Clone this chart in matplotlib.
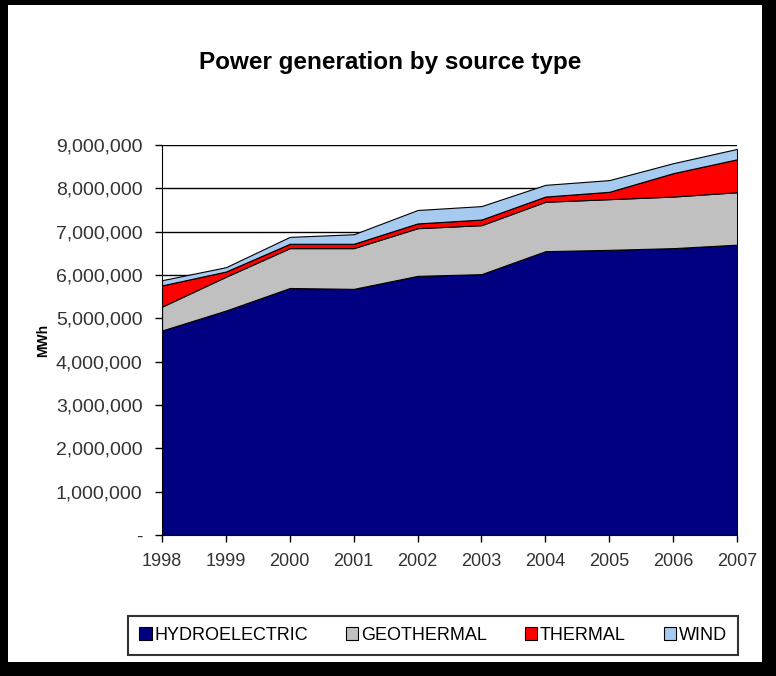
import matplotlib.pyplot as plt
from matplotlib.patches import Rectangle
from matplotlib.ticker import FuncFormatter

years = [1998, 1999, 2000, 2001, 2002, 2003, 2004, 2005, 2006, 2007]
hydro = [4720000, 5180000, 5700000, 5680000, 5980000, 6020000, 6550000, 6580000, 6620000, 6700000]
geo = [550000, 780000, 920000, 940000, 1100000, 1130000, 1140000, 1170000, 1190000, 1210000]
thermal = [490000, 120000, 100000, 100000, 110000, 130000, 120000, 170000, 540000, 760000]
wind = [120000, 100000, 160000, 220000, 310000, 310000, 270000, 270000, 230000, 240000]
labels = ['HYDROELECTRIC', 'GEOTHERMAL', 'THERMAL', 'WIND']
colors = ['#000080', '#C0C0C0', '#FF0000', '#A6CAF0']

plt.rcParams['font.family'] = ['Liberation Sans', 'DejaVu Sans']

fig = plt.figure(figsize=(7.76, 6.76), dpi=100, facecolor='black')
fig.patches.append(Rectangle((0.0103, 0.0207), 0.9716, 0.972, transform=fig.transFigure,
                             facecolor='white', edgecolor='none', zorder=-5))

ax = fig.add_axes([0.2088, 0.2086, 0.741, 0.5769])
ax.set_facecolor('white')
ax.stackplot(years, hydro, geo, thermal, wind, colors=colors, labels=labels,
             edgecolor='black', linewidth=0.8, zorder=2)

ax.set_xlim(1998, 2007)
ax.set_ylim(0, 9000000)
ax.set_xticks(years)
ax.set_yticks(range(0, 9000001, 1000000))
ax.yaxis.set_major_formatter(FuncFormatter(lambda v, p: '-' if v == 0 else f'{int(v):,}'))
for y in range(1000000, 9000001, 1000000):
    ax.axhline(y, color='black', linewidth=1.0, zorder=1)
for s in ['top', 'right']:
    ax.spines[s].set_visible(False)
ax.spines['left'].set_zorder(3)
ax.spines['bottom'].set_zorder(3)
ax.tick_params(axis='both', direction='out', length=5, width=1, colors='black')
ax.tick_params(axis='x', pad=8, labelsize=13)
ax.tick_params(axis='y', pad=9, labelsize=14)
for t in ax.get_xticklabels() + ax.get_yticklabels():
    t.set_color('#333333')
ax.set_ylabel('MWh', fontsize=10, fontweight='bold', labelpad=4)

fig.text(0.503, 0.908, 'Power generation by source type', ha='center', va='center',
         fontsize=17.5, fontweight='bold')

leg = ax.legend(loc='center', ncol=4, bbox_to_anchor=(0.165, 0.028, 0.786, 0.064),
                bbox_transform=fig.transFigure, mode='expand', fontsize=13, frameon=True,
                fancybox=False, handlelength=0.7, handleheight=0.7, handletextpad=0.15,
                borderaxespad=0, borderpad=0.6, columnspacing=1.0)
leg.get_frame().set_edgecolor('black')
leg.get_frame().set_linewidth(1.5)

fig.savefig('out.png', dpi=100, facecolor='black')
